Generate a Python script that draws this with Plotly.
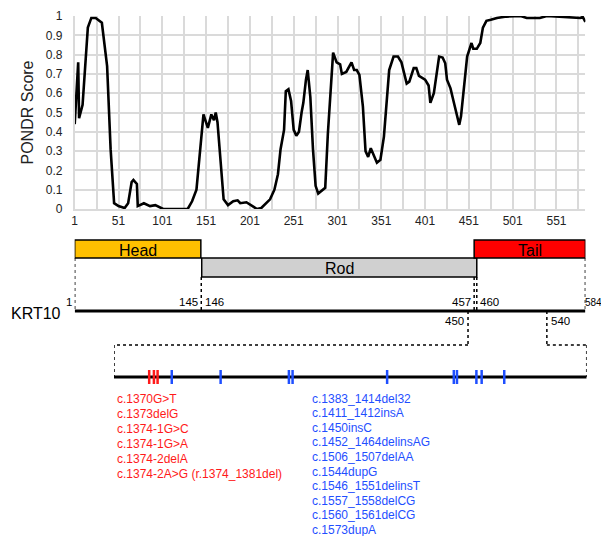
import plotly.graph_objects as go

# ---------------- data ----------------
residue = [1, 5, 6, 10, 16, 20, 25, 32, 38, 42, 46, 51, 58, 62, 66, 68, 72, 73, 80, 87,
           93, 97, 102, 130, 135, 140, 144, 148, 153, 157, 160, 162, 164, 167, 171, 176,
           182, 187, 190, 197, 202, 209, 214, 220, 224, 229, 233, 236, 240, 242, 245, 248,
           251, 254, 257, 260, 262, 265, 267, 270, 273, 276, 279, 287, 290, 296, 300, 304,
           306, 311, 317, 320, 323, 326, 330, 333, 336, 339, 343, 346, 350, 354, 360, 365,
           370, 374, 380, 383, 388, 391, 394, 401, 405, 407, 411, 417, 421, 424, 426, 430,
           435, 440, 442, 446, 449, 454, 456, 460, 464, 467, 471, 476, 483, 494, 510, 517,
           532, 540, 555, 574, 578, 581, 584]
pondr = [0.44, 0.76, 0.47, 0.54, 0.94, 0.99, 0.99, 0.965, 0.74, 0.31, 0.03, 0.015, 0.005,
         0.03, 0.14, 0.15, 0.13, 0.015, 0.03, 0.015, 0.02, 0.01, 0.0, 0.0, 0.04, 0.1, 0.31,
         0.49, 0.42, 0.49, 0.46, 0.50, 0.45, 0.29, 0.05, 0.02, 0.04, 0.045, 0.03, 0.035,
         0.02, 0.0, 0.005, 0.03, 0.05, 0.1, 0.18, 0.31, 0.41, 0.61, 0.62, 0.56, 0.41, 0.38,
         0.40, 0.50, 0.55, 0.67, 0.72, 0.58, 0.31, 0.12, 0.08, 0.11, 0.39, 0.81, 0.76, 0.75,
         0.70, 0.71, 0.76, 0.72, 0.72, 0.695, 0.53, 0.30, 0.27, 0.315, 0.27, 0.24, 0.255,
         0.375, 0.72, 0.79, 0.79, 0.76, 0.65, 0.66, 0.73, 0.73, 0.69, 0.67, 0.64, 0.55, 0.60,
         0.79, 0.785, 0.755, 0.67, 0.625, 0.53, 0.436, 0.48, 0.67, 0.79, 0.86, 0.83, 0.83,
         0.86, 0.94, 0.975, 0.98, 0.99, 0.997, 1.0, 0.99, 0.99, 1.0, 0.997, 0.99, 0.99,
         0.995, 0.97]

x_tick_vals = [1, 51, 101, 151, 201, 251, 301, 351, 401, 451, 501, 551]
y_tick_vals = [0, 0.1, 0.2, 0.3, 0.4, 0.5, 0.6, 0.7, 0.8, 0.9, 1]
y_tick_text = ["0", "0.1", "0.2", "0.3", "0.4", "0.5", "0.6", "0.7", "0.8", "0.9", "1"]

protein_name = "KRT10"
protein_length = 584
domain_names = ["Head", "Rod", "Tail"]
domain_start = [1, 146, 457]
domain_end = [145, 460, 584]
domain_colors = ["#FFC000", "#D0D0D0", "#FF0000"]
boundary_labels = [(1, "1", "right"), (145, "145", "right"), (146, "146", "left"),
                   (457, "457", "right"), (460, "460", "left"), (584, "584", "left")]
inset_start, inset_end = 450, 540

red_positions = [456.7, 457.6, 458.3]
blue_positions = [461.0, 470.3, 483.3, 484.0, 502.0, 514.7, 515.3, 519.0, 520.0, 524.3]
red_mutations = ["c.1370G>T", "c.1373delG", "c.1374-1G>C", "c.1374-1G>A",
                 "c.1374-2delA", "c.1374-2A>G (r.1374_1381del)"]
blue_mutations = ["c.1383_1414del32", "c.1411_1412insA", "c.1450insC",
                  "c.1452_1464delinsAG", "c.1506_1507delAA", "c.1544dupG",
                  "c.1546_1551delinsT", "c.1557_1558delCG", "c.1560_1561delCG",
                  "c.1573dupA"]

# ---------------- layout constants (page pixels) ----------------
PAGE_W, PAGE_H = 609, 536
OFF = 8                      # default body margin of the html page
FW, FH = PAGE_W - OFF, PAGE_H - OFF
PLOT_L, PLOT_R = 74.7, 585.4
PLOT_T, PLOT_B = 16, 209
INSET_L, INSET_R = 114, 586.7
FONT = "Liberation Sans, Arial, Helvetica, sans-serif"
RED = "#FF1A1A"
BLUE = "#1F4FFF"
BLUE_STEP = 14.6


def px_x(p):
    return (p - OFF) / FW


def px_y(p):
    return 1 - (p - OFF) / FH


main_dom = [px_x(PLOT_L), px_x(PLOT_R)]
inset_dom = [px_x(INSET_L), px_x(INSET_R)]


def to_paper(dom, rng, v):
    return dom[0] + (v - rng[0]) / (rng[1] - rng[0]) * (dom[1] - dom[0])


fig = go.Figure()

fig.add_trace(go.Scatter(x=residue, y=pondr, mode="lines",
                         line=dict(color="black", width=2.6),
                         xaxis="x", yaxis="y", showlegend=False, hoverinfo="skip",
                         cliponaxis=False))

# mutation ticks on the inset
fig.add_trace(go.Scatter(x=red_positions, y=[377] * len(red_positions), mode="markers",
                         marker=dict(symbol="line-ns", size=10,
                                     line=dict(color=RED, width=2.5)),
                         xaxis="x3", yaxis="y2", showlegend=False, hoverinfo="skip"))
fig.add_trace(go.Scatter(x=blue_positions, y=[377] * len(blue_positions), mode="markers",
                         marker=dict(symbol="line-ns", size=10,
                                     line=dict(color=BLUE, width=2.5)),
                         xaxis="x3", yaxis="y2", showlegend=False, hoverinfo="skip"))

shapes = []
annotations = []

# domain boxes
box_rows = {"Head": (240, 258), "Rod": (258, 277), "Tail": (240, 258)}
for name, s, e, c in zip(domain_names, domain_start, domain_end, domain_colors):
    y0, y1 = box_rows[name]
    shapes.append(dict(type="rect", xref="x2", yref="y2", x0=s, x1=e, y0=y0, y1=y1,
                       fillcolor=c, line=dict(color="black", width=1.5), layer="below"))
    annotations.append(dict(x=(s + e) / 2, y=(y0 + y1) / 2 + 1, xref="x2", yref="y2",
                            text=name, showarrow=False,
                            font=dict(family=FONT, size=16, color="black")))

# dotted boundary lines
dotted = dict(color="black", width=1.5, dash="dot")
for xv, ytop in [(1, 258), (145.5, 277), (457, 277), (460, 277), (584, 258)]:
    shapes.append(dict(type="line", xref="x2", yref="y2", x0=xv, x1=xv, y0=ytop, y1=311,
                       line=dotted))

# protein line
shapes.append(dict(type="line", xref="x2", yref="y2", x0=1, x1=protein_length,
                   y0=311, y1=311, line=dict(color="black", width=3)))
annotations.append(dict(x=px_x(63), y=313, xref="paper", yref="y2", text=protein_name,
                        showarrow=False, xanchor="right",
                        font=dict(family=FONT, size=16, color="black")))
for xv, txt, side in boundary_labels:
    last = xv == protein_length
    shift = -2 if side == "right" else (-1.5 if last else 2)
    annotations.append(dict(x=xv, y=302, xref="x2", yref="y2", text=txt, showarrow=False,
                            xanchor=side, xshift=shift, borderpad=0,
                            font=dict(family=FONT, size=(10 if last else 11.5),
                                      color="black")))
annotations.append(dict(x=inset_start, y=321, xref="x2", yref="y2", text=str(inset_start),
                        showarrow=False, xanchor="right", xshift=-2,
                        font=dict(family=FONT, size=11.5, color="black")))
annotations.append(dict(x=inset_end, y=321, xref="x2", yref="y2", text=str(inset_end),
                        showarrow=False, xanchor="left", xshift=2,
                        font=dict(family=FONT, size=11.5, color="black")))

# connectors to inset
for v in [inset_start, inset_end]:
    shapes.append(dict(type="line", xref="x2", yref="y2", x0=v, x1=v, y0=311, y1=345,
                       line=dotted))
    px_main = to_paper(main_dom, [1, protein_length], v)
    px_inset = to_paper(inset_dom, [inset_start, inset_end], v)
    shapes.append(dict(type="line", xref="paper", yref="y2", x0=px_main, x1=px_inset,
                       y0=345, y1=345, line=dotted))
    shapes.append(dict(type="line", xref="x3", yref="y2", x0=v, x1=v, y0=345, y1=377,
                       line=dotted))

# inset line
shapes.append(dict(type="line", xref="x3", yref="y2", x0=inset_start, x1=inset_end,
                   y0=377, y1=377, line=dict(color="black", width=3), layer="below"))

# mutation labels
for i, t in enumerate(red_mutations):
    annotations.append(dict(x=px_x(115), y=398.5 + i * 15, xref="paper", yref="y2",
                            text=t, showarrow=False, xanchor="left",
                            font=dict(family=FONT, size=12, color=RED)))
for i, t in enumerate(blue_mutations):
    annotations.append(dict(x=px_x(310), y=398.5 + i * BLUE_STEP, xref="paper", yref="y2",
                            text=t, showarrow=False, xanchor="left",
                            font=dict(family=FONT, size=12, color=BLUE)))

grid_c = "#DADADA"
fig.update_layout(
    width=FW, height=FH,
    margin=dict(l=0, r=0, t=0, b=0, autoexpand=False),
    paper_bgcolor="white", plot_bgcolor="rgba(0,0,0,0)",
    font=dict(family=FONT, color="#222"),
    shapes=shapes, annotations=annotations,
    xaxis=dict(domain=main_dom, range=[1, protein_length], anchor="y", automargin=False,
               tickvals=x_tick_vals, ticks="", showgrid=True, gridcolor=grid_c,
               gridwidth=1.5, minor=dict(tick0=1, dtick=25, showgrid=True,
                                         gridcolor=grid_c, gridwidth=1.5),
               showline=True, linecolor=grid_c, linewidth=1.5, zeroline=False,
               tickfont=dict(size=12, color="#222"), ticklabelstandoff=0),
    yaxis=dict(domain=[px_y(PLOT_B), px_y(PLOT_T)], range=[0, 1], anchor="x",
               automargin=False,
               tickvals=y_tick_vals, ticktext=y_tick_text, ticks="", showgrid=True,
               gridcolor=grid_c, gridwidth=1.5, showline=True, linecolor=grid_c,
               linewidth=1.5, zeroline=False, tickfont=dict(size=12, color="#222"),
               ticklabelstandoff=8,
               title=dict(text="PONDR Score", font=dict(size=16, color="#222"),
                          standoff=8)),
    xaxis2=dict(domain=main_dom, range=[1, protein_length], anchor="y2", visible=False,
                automargin=False),
    xaxis3=dict(domain=inset_dom, range=[inset_start, inset_end], anchor="y2",
                visible=False, automargin=False),
    yaxis2=dict(domain=[0, 1], range=[OFF + FH, OFF], anchor="x2", visible=False,
                automargin=False),
)

fig.write_html("out.html")
